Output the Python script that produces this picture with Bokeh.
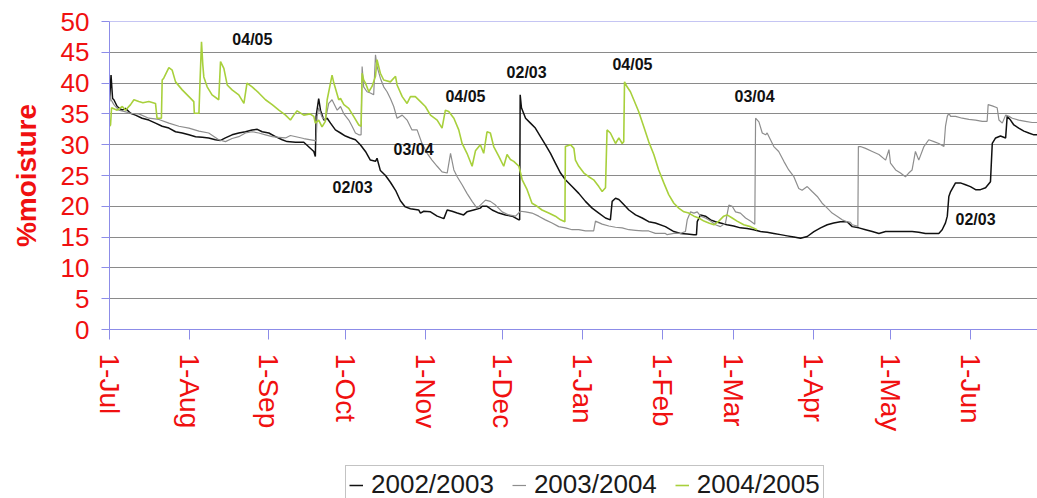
import math
from bokeh.plotting import figure
from bokeh.layouts import column
from bokeh.models import Range1d, FixedTicker, Legend, LegendItem, ColumnDataSource, Span
from bokeh.core.properties import value
from bokeh.embed import file_html
from bokeh.resources import INLINE

# ---------------- data (x = days since 1 July, y = % moisture) ----------------
month_days = [0, 31, 62, 92, 123, 153, 184, 215, 243, 274, 304, 335]
month_labels = ["1-Jul", "1-Aug", "1-Sep", "1-Oct", "1-Nov", "1-Dec",
                "1-Jan", "1-Feb", "1-Mar", "1-Apr", "1-May", "1-Jun"]
y_ticks = [0, 5, 10, 15, 20, 25, 30, 35, 40, 45, 50]
series_names = ["2002/2003", "2003/2004", "2004/2005"]

s0203 = [(0.0, 37.0), (0.6, 41.3), (1.2, 37.5), (1.7, 37.3), (3.0, 36.2), (4.9, 35.6), (6.2, 35.9),
         (8.2, 35.1), (10.1, 34.8), (12.7, 34.3), (15.3, 34.0), (17.9, 33.5), (20.5, 33.0), (23.1, 32.7),
         (25.7, 32.1), (28.3, 31.9), (30.9, 31.6), (33.5, 31.3), (36.1, 31.2), (38.6, 31.1), (41.2, 30.8),
         (43.2, 30.7), (45.1, 31.1), (47.7, 31.6), (50.3, 31.9), (52.9, 32.1), (55.5, 32.4), (57.5, 32.5),
         (59.4, 32.1), (62.0, 31.9), (64.6, 31.3), (67.2, 30.8), (69.1, 30.5), (72.4, 30.4), (75.6, 30.4),
         (79.5, 28.9), (80.1, 28.1), (80.4, 34.6), (81.4, 37.5), (82.1, 35.6), (83.4, 34.0), (84.7, 34.3),
         (86.0, 33.5), (87.9, 32.4), (89.9, 31.9), (91.8, 31.4), (93.7, 31.1), (95.7, 30.8), (97.6, 30.0),
         (99.6, 28.9), (101.5, 27.5), (103.5, 27.3), (104.1, 27.8), (105.4, 25.8), (107.4, 25.0),
         (109.3, 23.9), (111.3, 22.6), (113.2, 20.9), (115.1, 19.9), (117.1, 19.6), (120.3, 19.4),
         (121.0, 18.9), (122.3, 19.2), (124.9, 19.1), (127.5, 18.4), (130.1, 18.0), (131.4, 19.4),
         (133.3, 19.2), (135.3, 18.9), (137.8, 18.6), (139.1, 19.1), (141.7, 19.4), (144.3, 19.7),
         (145.0, 20.0), (146.9, 20.0), (148.9, 19.4), (151.5, 18.9), (154.1, 18.6), (156.7, 18.4),
         (159.3, 17.8), (159.6, 17.8), (159.8, 38.1), (160.3, 36.0), (161.9, 34.3), (163.8, 33.5),
         (165.7, 32.7), (167.7, 31.3), (169.6, 30.0), (171.6, 28.6), (173.5, 27.0), (175.5, 25.4),
         (177.4, 24.3), (180.0, 23.2), (182.6, 22.1), (185.2, 20.8), (187.8, 19.7), (190.4, 18.9),
         (193.0, 18.1), (194.9, 17.8), (195.6, 20.8), (196.9, 21.3), (198.2, 21.1), (200.1, 20.3),
         (202.1, 19.4), (204.7, 18.6), (207.3, 18.1), (209.8, 17.5), (212.4, 17.3), (216.3, 16.7),
         (219.6, 15.9), (222.2, 15.6), (224.8, 15.5), (227.4, 15.4), (228.4, 15.4), (228.7, 17.5),
         (230.0, 18.6), (231.9, 18.4), (233.9, 17.8), (235.8, 17.5), (237.7, 17.3), (240.3, 17.0),
         (242.9, 16.8), (245.5, 16.5), (248.1, 16.4), (250.7, 16.2), (253.3, 15.9), (255.9, 15.8),
         (258.5, 15.6), (261.1, 15.4), (263.7, 15.2), (266.3, 15.0), (268.9, 14.8), (271.5, 15.1),
         (274.1, 15.9), (276.7, 16.5), (279.3, 17.0), (281.8, 17.3), (284.4, 17.5), (287.0, 17.5),
         (289.0, 16.7), (291.6, 16.5), (294.2, 16.2), (296.8, 15.9), (299.4, 15.6), (302.0, 15.9),
         (304.6, 15.9), (307.2, 15.9), (309.7, 15.9), (312.3, 15.9), (314.9, 15.8), (317.5, 15.6),
         (320.1, 15.6), (322.7, 15.6), (324.0, 16.2), (325.3, 17.3), (326.0, 18.4), (326.6, 21.6),
         (327.3, 22.4), (329.2, 23.8), (331.1, 23.8), (333.1, 23.5), (335.0, 23.2), (337.0, 22.7),
         (338.9, 22.7), (340.9, 23.0), (342.8, 24.0), (343.5, 30.2), (344.8, 31.1), (346.7, 31.4),
         (348.7, 31.1), (349.3, 34.6), (350.6, 34.0), (351.9, 33.2), (353.8, 32.7), (355.8, 32.2),
         (357.7, 31.9), (359.7, 31.6), (361.1, 31.6)]

s0304 = [(0.0, 38.0), (0.6, 37.3), (1.7, 36.5), (3.6, 35.6), (5.6, 35.4), (8.2, 35.1), (11.4, 35.0),
         (15.3, 34.3), (19.2, 34.1), (23.1, 33.5), (27.0, 33.0), (30.9, 32.7), (34.8, 32.2), (38.6, 31.9),
         (42.5, 30.8), (45.1, 30.5), (47.7, 31.0), (50.3, 31.3), (52.9, 31.9), (55.5, 32.1), (58.1, 31.9),
         (60.7, 31.6), (63.3, 31.3), (65.9, 31.2), (68.5, 31.1), (70.4, 31.5), (75.6, 31.0), (79.5, 30.7),
         (80.4, 30.6), (80.8, 34.6), (81.4, 36.0), (82.7, 34.5), (84.0, 34.0), (85.3, 36.7), (86.6, 37.3),
         (87.3, 36.7), (88.6, 35.6), (89.9, 36.2), (91.2, 35.0), (93.1, 34.0), (94.4, 33.0), (95.7, 31.9),
         (97.0, 31.6), (97.9, 31.6), (98.3, 42.7), (98.9, 39.4), (100.2, 38.6), (101.5, 38.4),
         (102.8, 38.1), (103.5, 44.6), (104.1, 42.7), (105.4, 40.8), (106.7, 39.4), (108.0, 38.6),
         (109.3, 37.5), (110.6, 36.2), (111.9, 34.3), (113.9, 34.8), (115.8, 34.0), (117.7, 32.4),
         (119.7, 32.4), (121.6, 30.2), (123.6, 28.6), (125.5, 27.5), (127.5, 26.5), (129.4, 25.6),
         (131.4, 25.4), (132.7, 28.6), (134.0, 25.9), (135.3, 24.8), (137.2, 23.5), (139.1, 22.1),
         (141.1, 20.8), (143.0, 19.7), (144.3, 20.2), (146.3, 21.0), (148.2, 20.8), (150.2, 20.2),
         (152.8, 19.1), (155.4, 18.6), (158.0, 18.4), (159.9, 19.2), (161.9, 19.1), (164.4, 18.9),
         (167.0, 18.4), (169.6, 17.8), (172.2, 17.3), (174.8, 16.7), (177.4, 16.5), (180.0, 16.2),
         (182.6, 16.2), (185.2, 16.0), (188.4, 16.0), (189.1, 17.6), (191.7, 17.1), (194.3, 16.8),
         (196.9, 16.6), (199.5, 16.5), (202.1, 16.2), (204.7, 16.1), (207.3, 16.0), (209.8, 16.0),
         (212.4, 15.6), (216.3, 15.6), (217.0, 15.4), (219.6, 15.6), (222.2, 15.6), (224.1, 15.9),
         (224.8, 17.8), (226.1, 19.1), (227.4, 18.9), (228.7, 19.1), (230.0, 18.4), (231.9, 18.1),
         (233.9, 17.6), (235.8, 17.0), (237.7, 16.7), (239.7, 17.3), (241.0, 20.2), (242.3, 20.0),
         (243.6, 19.1), (245.5, 18.9), (247.5, 18.1), (249.4, 17.6), (251.1, 17.1), (251.4, 34.3),
         (252.7, 33.7), (254.0, 31.9), (255.3, 31.6), (255.9, 31.9), (257.2, 30.8), (258.5, 29.7),
         (260.4, 28.9), (262.4, 27.3), (264.3, 25.9), (266.3, 24.8), (268.2, 22.9), (269.5, 22.6),
         (271.5, 23.2), (273.4, 22.4), (275.4, 21.6), (277.3, 20.5), (279.3, 19.7), (281.2, 18.9),
         (283.1, 18.4), (285.1, 17.8), (287.0, 17.5), (288.3, 17.4), (289.0, 17.0), (290.9, 16.8),
         (291.2, 16.7), (291.4, 29.7), (292.2, 29.7), (294.2, 29.4), (296.8, 28.9), (299.4, 28.4),
         (302.0, 27.5), (303.3, 29.2), (303.9, 27.0), (305.9, 25.9), (307.8, 25.4), (309.7, 24.8),
         (311.0, 25.4), (312.3, 25.9), (313.6, 28.9), (314.9, 27.5), (316.9, 29.7), (318.8, 30.8),
         (320.8, 30.5), (322.7, 30.2), (324.7, 29.7), (325.3, 33.0), (326.0, 34.6), (326.6, 35.1),
         (327.3, 34.6), (329.2, 34.6), (331.8, 34.3), (334.4, 34.1), (337.0, 34.0), (339.6, 33.8),
         (341.5, 33.8), (341.9, 36.5), (343.5, 36.3), (345.4, 36.0), (346.1, 34.0), (347.4, 33.5),
         (348.7, 34.8), (350.0, 34.6), (351.3, 34.3), (353.8, 34.0), (356.4, 33.8), (359.0, 33.6),
         (361.1, 33.6)]

s0405 = [(0.0, 33.0), (0.4, 33.2), (0.8, 36.0), (3.0, 35.6), (5.0, 36.2), (6.2, 35.6), (8.2, 36.5),
         (9.5, 37.3), (11.4, 37.0), (13.0, 36.8), (15.3, 37.0), (17.9, 36.7), (18.5, 34.3), (20.2, 34.3),
         (20.5, 40.5), (21.1, 40.8), (23.1, 42.5), (24.4, 42.1), (25.7, 40.2), (28.3, 38.9), (30.9, 37.8),
         (32.8, 37.0), (33.0, 35.1), (34.8, 35.1), (35.2, 40.0), (35.8, 46.7), (36.3, 43.0), (36.7, 41.0),
         (38.0, 39.4), (39.9, 38.1), (42.5, 37.3), (43.2, 43.5), (44.5, 42.4), (45.8, 39.7), (47.7, 38.9),
         (50.3, 38.1), (52.3, 36.7), (53.5, 40.0), (55.5, 39.4), (58.1, 38.4), (60.7, 37.3), (63.3, 36.5),
         (65.9, 35.6), (68.5, 34.8), (70.4, 34.0), (71.7, 34.8), (73.0, 35.5), (75.6, 34.8), (78.0, 35.0),
         (79.5, 34.6), (80.1, 33.5), (81.4, 34.0), (82.7, 32.9), (84.0, 33.8), (84.7, 37.3), (86.6, 41.3),
         (87.3, 40.0), (89.2, 37.3), (89.9, 37.5), (91.2, 36.5), (93.1, 35.9), (95.0, 34.6), (97.0, 33.2),
         (97.9, 33.0), (98.3, 41.6), (98.9, 40.5), (99.6, 40.0), (100.9, 38.6), (102.2, 39.5),
         (103.5, 41.1), (104.1, 43.8), (105.4, 41.6), (106.7, 40.5), (109.3, 40.2), (111.3, 41.1),
         (111.9, 39.7), (113.9, 37.8), (115.8, 36.7), (117.1, 37.8), (119.0, 37.8), (121.0, 37.0),
         (122.9, 36.2), (124.9, 34.8), (127.5, 34.0), (129.4, 32.7), (130.7, 35.6), (132.0, 35.4),
         (134.0, 34.3), (135.9, 32.4), (137.2, 30.2), (139.1, 28.6), (141.1, 26.5), (142.4, 29.0),
         (144.3, 30.0), (145.6, 28.6), (146.9, 32.1), (148.2, 31.9), (149.5, 29.7), (151.5, 28.1),
         (153.4, 26.5), (154.7, 28.4), (156.0, 27.6), (157.3, 27.3), (159.3, 26.5), (160.6, 24.3),
         (162.5, 22.7), (164.4, 20.5), (166.4, 20.0), (168.3, 19.4), (170.9, 18.9), (173.5, 18.4),
         (175.5, 17.8), (177.2, 17.5), (177.4, 29.7), (179.4, 30.0), (180.7, 29.4), (181.3, 27.5),
         (182.6, 26.5), (184.6, 25.4), (186.5, 24.8), (188.4, 24.3), (190.4, 23.2), (191.7, 22.4),
         (193.0, 23.0), (193.6, 32.4), (194.9, 31.9), (196.9, 30.2), (198.2, 31.1), (199.5, 30.2),
         (200.1, 30.5), (200.4, 40.2), (201.4, 39.4), (202.7, 38.6), (204.0, 37.3), (205.9, 35.4),
         (207.9, 32.9), (209.8, 30.5), (211.8, 28.4), (213.7, 25.9), (215.7, 23.8), (216.3, 23.2),
         (217.6, 21.9), (219.6, 20.5), (221.5, 19.7), (223.5, 19.1), (225.4, 18.9), (227.4, 18.4),
         (229.3, 18.1), (231.3, 17.6), (233.2, 17.3), (235.2, 17.0), (237.1, 17.6), (239.0, 18.4),
         (240.3, 18.6), (242.3, 18.1), (244.2, 17.6), (246.8, 17.0), (249.4, 16.7), (252.0, 16.2)]

label_text = ["04/05", "02/03", "03/04", "04/05", "02/03", "04/05", "03/04", "02/03"]
label_day = [55.6, 94.6, 118.3, 138.5, 162.3, 203.5, 251.0, 337.0]
label_val = [47.1, 23.1, 29.2, 37.8, 41.7, 43.0, 37.8, 17.9]

# ---------------- chart figure ----------------
RED = "#f01010"
BLUE = "#8c8ce8"
FONT = "Liberation Sans"
colors = ["#111111", "#8e8e8e", "#a8d03c"]
widths = [1.5, 1.2, 1.6]

p = figure(width=1037, height=464, output_backend="svg", toolbar_location=None,
           x_range=Range1d(0, 361.1), y_range=Range1d(0, 50),
           min_border_left=109, min_border_right=0, min_border_top=21, min_border_bottom=135)
p.background_fill_color = "white"
p.border_fill_color = "white"
p.outline_line_color = None

p.xgrid.visible = False
p.ygrid.ticker = FixedTicker(ticks=y_ticks[1:-1])
p.ygrid.grid_line_color = "#8a8a8a"
p.ygrid.grid_line_width = 1
p.add_layout(Span(location=y_ticks[-1], dimension="width", line_color=BLUE, line_width=1.2))

p.yaxis.ticker = FixedTicker(ticks=y_ticks)
p.yaxis.axis_line_color = BLUE
p.yaxis.major_tick_line_color = BLUE
p.yaxis.major_tick_out = 8
p.yaxis.major_tick_in = 0
p.yaxis.minor_tick_line_color = None
p.yaxis.major_label_text_color = RED
p.yaxis.major_label_text_font = FONT
p.yaxis.major_label_text_font_size = "26px"
p.yaxis.major_label_standoff = 12
p.yaxis.axis_label = "%moisture"
p.yaxis.axis_label_text_color = RED
p.yaxis.axis_label_text_font = FONT
p.yaxis.axis_label_text_font_style = "bold"
p.yaxis.axis_label_text_font_size = "28px"
p.yaxis.axis_label_standoff = 16

p.xaxis.ticker = FixedTicker(ticks=month_days)
p.xaxis.major_label_overrides = {d: l for d, l in zip(month_days, month_labels)}
p.xaxis.major_label_orientation = "vertical"
p.xaxis.axis_line_color = BLUE
p.xaxis.major_tick_line_color = BLUE
p.xaxis.major_tick_out = 10
p.xaxis.major_tick_in = 0
p.xaxis.minor_tick_line_color = None
p.xaxis.major_label_text_color = RED
p.xaxis.major_label_text_font = FONT
p.xaxis.major_label_text_font_size = "28px"
p.xaxis.major_label_standoff = 14

for s, c, w in zip([s0203, s0304, s0405], colors, widths):
    src = ColumnDataSource(data=dict(x=[a for a, b in s], y=[b for a, b in s]))
    p.line("x", "y", source=src, line_color=c, line_width=w)

lab_src = ColumnDataSource(data=dict(x=label_day, y=label_val, t=label_text))
p.text("x", "y", text="t", source=lab_src, text_font=value(FONT), text_font_style="bold",
       text_font_size="16px", text_align="center", text_baseline="middle", text_color="#111111")

# ---------------- legend strip below the chart ----------------
q = figure(width=1037, height=34, output_backend="svg", toolbar_location=None,
           x_axis_type=None, y_axis_type=None, min_border=0,
           x_range=Range1d(0, 1), y_range=Range1d(0, 1))
q.outline_line_color = None
q.background_fill_color = "white"
q.border_fill_color = "white"
q.xgrid.visible = False
q.ygrid.visible = False
legend_renderers = []
for c, w in zip(colors, widths):
    # swatch-only renderers, placed outside the visible range
    legend_renderers.append(q.line(x=[-5, -4], y=[-5, -4], line_color=c, line_width=w))

legend = Legend(items=[LegendItem(label=n, renderers=[r]) for n, r in zip(series_names, legend_renderers)],
                orientation="horizontal", location=(236, -6))
legend.label_text_font = FONT
legend.label_text_font_size = "26px"
legend.label_text_color = "#1a1a1a"
legend.border_line_color = "#888888"
legend.border_line_width = 1
legend.background_fill_color = "white"
legend.background_fill_alpha = 1
legend.glyph_width = 14
legend.label_standoff = 8
legend.spacing = 18
legend.padding = 3
legend.margin = 0
q.add_layout(legend)

layout = column(p, q, spacing=0)
open("out.html", "w").write(file_html(layout, INLINE))
